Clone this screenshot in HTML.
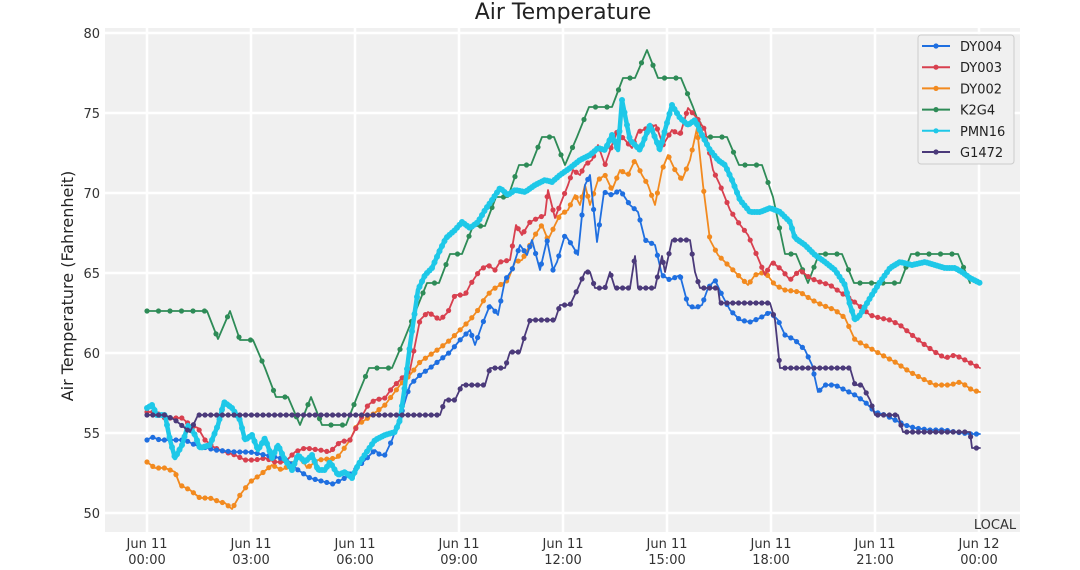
<!DOCTYPE html>
<html><head><meta charset="utf-8"><style>
html,body{margin:0;padding:0;background:#fff;}
svg{display:block;font-family:"DejaVu Sans","Liberation Sans",sans-serif;}
</style></head><body>
<svg id="s" width="1080" height="570" xmlns="http://www.w3.org/2000/svg">
<rect x="0" y="0" width="1080" height="570" fill="#fff"/>
<rect x="105" y="28" width="915" height="504" fill="#f0f0f0"/>
<g stroke="#fff" stroke-width="2.5">
<line x1="105" x2="1020" y1="33" y2="33"/><line x1="105" x2="1020" y1="113" y2="113"/>
<line x1="105" x2="1020" y1="193" y2="193"/><line x1="105" x2="1020" y1="273" y2="273"/>
<line x1="105" x2="1020" y1="353" y2="353"/><line x1="105" x2="1020" y1="433" y2="433"/>
<line x1="105" x2="1020" y1="513" y2="513"/>
<line y1="28" y2="532" x1="147" x2="147"/><line y1="28" y2="532" x1="251" x2="251"/>
<line y1="28" y2="532" x1="355" x2="355"/><line y1="28" y2="532" x1="459" x2="459"/>
<line y1="28" y2="532" x1="563" x2="563"/><line y1="28" y2="532" x1="667" x2="667"/>
<line y1="28" y2="532" x1="771" x2="771"/><line y1="28" y2="532" x1="875" x2="875"/>
<line y1="28" y2="532" x1="979" x2="979"/>
</g>
<g font-size="13" fill="#333" text-anchor="end">
<text x="100" y="38">80</text><text x="100" y="118">75</text><text x="100" y="198">70</text>
<text x="100" y="278">65</text><text x="100" y="358">60</text><text x="100" y="438">55</text><text x="100" y="518">50</text>
</g>
<g font-size="13" fill="#333" text-anchor="middle">
<text x="147" y="548">Jun 11</text><text x="147" y="564">00:00</text>
<text x="251" y="548">Jun 11</text><text x="251" y="564">03:00</text>
<text x="355" y="548">Jun 11</text><text x="355" y="564">06:00</text>
<text x="459" y="548">Jun 11</text><text x="459" y="564">09:00</text>
<text x="563" y="548">Jun 11</text><text x="563" y="564">12:00</text>
<text x="667" y="548">Jun 11</text><text x="667" y="564">15:00</text>
<text x="771" y="548">Jun 11</text><text x="771" y="564">18:00</text>
<text x="875" y="548">Jun 11</text><text x="875" y="564">21:00</text>
<text x="979" y="548">Jun 12</text><text x="979" y="564">00:00</text>
</g>
<text x="995" y="529" font-size="13" fill="#333" text-anchor="middle">LOCAL</text>
<text x="563" y="19" font-size="22" fill="#222" text-anchor="middle">Air Temperature</text>
<text transform="translate(73,286) rotate(-90)" font-size="16" fill="#222" text-anchor="middle">Air Temperature (Fahrenheit)</text>
<g id="series"></g>
<g>
<rect x="918" y="35" width="96" height="129" rx="3" fill="#f0f0f0" stroke="#ccc"/>
<g id="leg" font-size="13" fill="#222"></g>
</g>
</svg>
<script>
var S=[
{n:"K2G4",c:"#2e8b57",w:1.8,r:2.6,dx:11.5,p:[147,311,207,311,218,339,230,311,240,340,253,340,265,368,276,397,288,397,300,425,311,397,322,425,346,425,357,397,369,368,392,368,404,340,427,283,439,283,450,254,462,254,473,226,485,226,496,197,508,197,519,165,531,165,542,137,554,137,565,165,577,137,589,107,612,107,623,78,635,78,647,50,658,78,681,78,693,107,704,137,727,137,739,165,762,165,773,197,785,254,796,254,808,283,819,254,842,254,854,283,877,283,900,283,911,254,958,254,970,283]},
{n:"DY002",c:"#f28a1f",w:1.8,r:2.6,dx:5.8,p:[147,462,155,468,165,468,175,472,180,485,190,490,200,498,210,498,220,502,225,503,232,509,240,495,250,482,260,475,272,465,282,470,293,463,300,455,307,468,318,460,337,458,343,450,350,440,357,425,365,420,372,415,385,405,400,385,410,375,420,362,430,355,440,348,450,340,460,330,470,320,478,310,485,298,492,290,500,285,508,280,515,262,522,260,530,245,535,235,542,225,548,240,555,225,560,215,568,210,575,195,580,205,585,185,590,205,598,180,605,175,612,190,620,170,628,175,635,160,642,175,648,185,655,205,662,170,668,155,675,170,682,180,690,160,697,128,703,185,710,240,718,255,728,265,738,275,748,285,755,275,765,272,775,285,785,290,800,292,812,300,822,305,835,310,845,318,855,340,870,348,882,355,895,362,910,372,925,380,935,385,950,385,960,382,965,385,972,390,980,392]},
{n:"DY003",c:"#d8404f",w:1.8,r:2.6,dx:5.8,p:[147,412,155,412,165,418,175,418,182,418,190,425,198,428,205,440,215,448,225,452,235,455,245,460,255,460,265,458,275,462,285,462,295,452,305,448,320,450,330,452,340,442,350,440,360,420,368,405,375,400,385,398,392,388,400,380,410,370,420,320,428,312,440,320,448,312,455,295,465,295,470,285,480,270,488,265,495,270,500,262,510,260,516,225,522,235,530,222,538,218,545,215,548,190,555,218,562,200,568,185,573,170,580,175,585,165,592,160,598,145,605,165,612,145,617,132,625,140,632,148,638,132,648,128,656,125,663,145,672,130,680,135,688,108,697,118,705,130,713,170,720,185,730,210,738,222,748,235,758,258,765,275,772,262,782,270,790,280,800,270,810,278,820,282,830,285,840,292,852,300,862,308,870,315,880,318,890,320,900,325,912,335,925,345,935,352,945,358,955,355,965,360,980,368]},
{n:"DY004",c:"#1f6fe0",w:1.8,r:2.6,dx:5.8,p:[147,440,152,437,160,440,185,440,195,445,215,450,235,452,250,452,265,455,280,458,290,462,298,470,310,478,325,482,333,484,345,478,355,470,365,460,375,450,380,455,385,455,392,440,400,418,410,385,420,375,430,368,440,360,450,352,460,340,470,330,475,345,482,325,490,305,498,315,505,280,512,270,520,245,527,255,532,240,540,270,547,240,553,270,557,262,565,235,572,245,578,255,585,185,590,175,597,242,604,192,612,195,620,190,630,205,638,212,645,240,655,245,662,275,670,280,680,275,688,305,695,308,702,305,708,288,715,280,722,295,730,310,740,320,750,322,760,318,770,312,778,320,785,335,795,340,805,350,812,365,818,392,825,385,835,385,845,390,855,395,865,402,875,412,885,415,895,420,905,425,915,428,930,430,945,430,955,432,970,434,980,434]},
{n:"PMN16",c:"#1ec8e8",w:4.5,r:3,dx:2.5,p:[147,408,152,405,157,415,165,415,170,440,175,458,182,445,188,425,195,435,200,448,210,445,218,425,224,402,232,408,240,420,245,440,252,435,258,450,265,438,272,458,278,445,285,460,292,470,298,455,305,462,312,455,318,470,325,470,330,462,338,475,345,472,352,478,358,465,368,450,375,440,385,435,395,432,400,420,405,385,410,345,418,290,425,275,432,268,440,250,446,238,455,230,462,222,470,228,478,222,485,210,492,200,500,188,508,195,515,190,525,192,535,185,545,180,552,182,560,175,570,168,580,160,590,155,598,148,605,150,612,135,618,150,622,100,630,140,640,150,650,125,660,150,665,130,672,105,680,118,688,125,695,120,702,135,710,150,718,160,725,165,732,180,740,200,750,212,760,212,770,208,780,212,790,222,795,238,805,245,815,255,825,262,835,270,845,285,850,305,855,320,860,315,870,298,880,282,890,268,900,262,912,265,925,262,935,265,945,268,955,268,962,272,970,278,980,283]},
{n:"G1472",c:"#4b3a7a",w:1.8,r:2.6,dx:5.8,p:[147,415,165,415,175,420,190,432,198,415,440,415,445,400,455,400,462,385,485,385,490,368,505,368,510,352,520,352,525,335,530,320,555,320,560,305,570,305,578,288,585,272,590,272,595,288,605,288,610,272,615,288,630,288,635,256,638,288,655,288,662,256,665,272,672,240,690,240,695,272,700,288,718,288,720,303,770,303,775,320,780,368,850,368,855,385,862,385,870,400,875,415,898,415,903,432,970,432,972,448,980,448]}
];
var NS="http://www.w3.org/2000/svg",g=document.getElementById("series");
function el(t,a,par){var e=document.createElementNS(NS,t);for(var k in a)e.setAttribute(k,a[k]);par.appendChild(e);return e;}
function interp(p,x){for(var i=0;i<p.length-2;i+=2){if(x>=p[i]&&x<=p[i+2]){var d=p[i+2]-p[i];return d?p[i+1]+(p[i+3]-p[i+1])*(x-p[i])/d:p[i+3];}}return p[p.length-1];}
S.forEach(function(s){
  var d="M"+s.p[0]+","+s.p[1];for(var i=2;i<s.p.length;i+=2)d+="L"+s.p[i]+","+s.p[i+1];
  el("path",{d:d,fill:"none",stroke:s.c,"stroke-width":s.w,"stroke-linejoin":"round","stroke-linecap":"round"},g);
  var x0=s.p[0],x1=s.p[s.p.length-2];
  for(var x=x0;x<=x1+0.1;x+=s.dx){el("circle",{cx:x,cy:interp(s.p,x),r:s.r,fill:s.c},g);}
});
var leg=document.getElementById("leg"),names=["DY004","DY003","DY002","K2G4","PMN16","G1472"];
names.forEach(function(n,i){var s=S.filter(function(q){return q.n==n})[0];var y=46+i*21.2;
 el("line",{x1:922,x2:950,y1:y,y2:y,stroke:s.c,"stroke-width":2},leg);
 el("circle",{cx:936,cy:y,r:2.6,fill:s.c},leg);
 var t=el("text",{x:960,y:y+5},leg);t.textContent=n;});
</script>
</body></html>
